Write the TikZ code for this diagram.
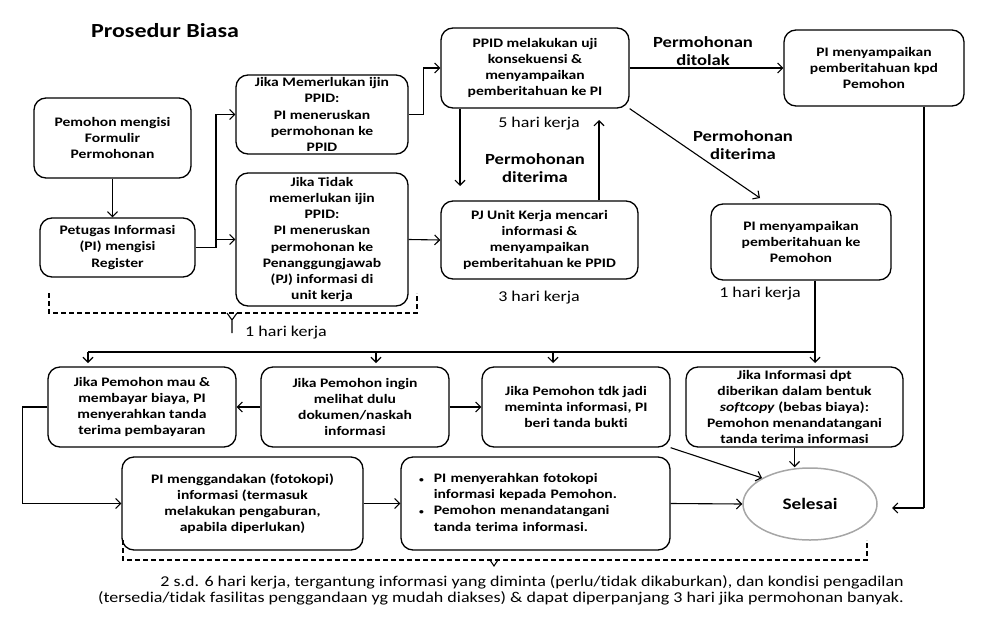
\documentclass[tikz,border=0pt]{standalone}
\usepackage{fontspec}
\setmainfont{Carlito}[FakeStretch=1.2,Ligatures=NoCommon]
\usepackage{tikz}
\usetikzlibrary{arrows.meta,shapes.geometric}
\usetikzlibrary{positioning}

\begin{document}
\begin{tikzpicture}[x=1pt,y=-1pt,
  box/.style n args={2}{draw,line width=1.3pt,rounded corners=12pt,align=center,inner sep=2pt,
    minimum width=#1,minimum height=#2,font=\fontsize{13}{16.2}\selectfont\bfseries},
  arr/.style={line width=1.1pt,-{Straight Barb[length=5pt,width=10pt]}},
  kurung/.style={line width=1.2pt,dash pattern=on 5pt off 3pt},
  ket/.style={align=center,inner sep=0pt,font=\fontsize{15.5}{18}\selectfont\bfseries},
  hari/.style={inner sep=0pt,font=\fontsize{15}{18}\selectfont}]
  \useasboundingbox (0,0) rectangle (987,624);
  \node[inner sep=0pt,font=\fontsize{20}{24}\selectfont\bfseries] (judul) at (165,31) {Prosedur Biasa};
  % baris atas
  \node[box={157pt}{80pt}] (form) at (112.5,138) {Pemohon mengisi\\Formulir\\Permohonan};
  \node[box={155pt}{59pt}] (register) at (117.5,247.5) {Petugas Informasi\\(PI) mengisi\\Register};
  \node[box={172pt}{79pt}] (ijin) at (322,114.5) {Jika Memerlukan ijin\\PPID:\\PI meneruskan\\permohonan ke\\PPID};
  \node[box={172pt}{133pt}] (tanpaijin) at (322,239.5) {Jika Tidak\\memerlukan ijin\\PPID:\\PI meneruskan\\permohonan ke\\Penanggungjawab\\(PJ) informasi di\\unit kerja};
  \node[box={188pt}{80pt}] (uji) at (535,68) {PPID melakukan uji\\konsekuensi \&\\menyampaikan\\pemberitahuan ke PI};
  \node[box={180pt}{76pt}] (tolak) at (874,68) {PI menyampaikan\\pemberitahuan kpd\\Pemohon};
  \node[box={197pt}{78pt}] (pj) at (539.5,240) {PJ Unit Kerja mencari\\informasi \&\\menyampaikan\\pemberitahuan ke PPID};
  \node[box={180pt}{76pt}] (terima) at (801,242) {PI menyampaikan\\pemberitahuan ke\\Pemohon};
  % baris bawah
  \node[box={188pt}{80pt}] (bayar) at (142,407) {Jika Pemohon mau \&\\membayar biaya, PI\\menyerahkan tanda\\terima pembayaran};
  \node[box={188pt}{80pt}] (lihat) at (355,407) {Jika Pemohon ingin\\melihat dulu\\dokumen/naskah\\informasi};
  \node[box={188pt}{80pt}] (batal) at (576,407) {Jika Pemohon tdk jadi\\meminta informasi, PI\\beri tanda bukti};
  \node[box={217pt}{80pt}] (soft) at (794.5,407) {Jika Informasi dpt\\diberikan dalam bentuk\\\textit{softcopy} (bebas biaya):\\Pemohon menandatangani\\tanda terima informasi};
  \node[box={241pt}{93pt}] (ganda) at (242.5,503.5) {PI menggandakan (fotokopi)\\informasi (termasuk\\melakukan pengaburan,\\apabila diperlukan)};
  \node[box={269pt}{93pt},align=left,text width=233pt,inner xsep=18pt] (serah) at (535.5,503.5)
    {\begin{tabular}{@{}l@{\hspace{10pt}}l@{}}
      {\fontsize{8}{8}\selectfont\textbullet} & PI menyerahkan fotokopi\\
                  & informasi kepada Pemohon.\\
      {\fontsize{8}{8}\selectfont\textbullet} & Pemohon menandatangani\\
                  & tanda terima informasi.
    \end{tabular}};
  \node[ellipse,draw=gray!70,line width=1.5pt,minimum width=134pt,minimum height=72pt,inner sep=0pt,
    font=\fontsize{16}{19}\selectfont\bfseries] (selesai) at (810,504) {Selesai};
  % keterangan
  \node[ket] (ditolak) at (703,51) {Permohonan\\ditolak};
  \node[ket] (diterima) at (535,168) {Permohonan\\diterima};
  \node[ket] (diterimab) at (743,145) {Permohonan\\diterima};
  \node[hari] (limahari) at (539,124) {5 hari kerja};
  \node[hari] (tigahari) at (539,298) {3 hari kerja};
  \node[hari] (satuhari) at (760,294) {1 hari kerja};
  \node[hari] (satuharib) at (286,333) {1 hari kerja};
  \node[hari,align=right,anchor=east,font=\fontsize{15}{16}\selectfont] (catatan) at (904,590)
    {2 s.d. 6 hari kerja, tergantung informasi yang diminta (perlu/tidak dikaburkan), dan kondisi pengadilan\\
     (tersedia/tidak fasilitas penggandaan yg mudah diakses) \& dapat diperpanjang 3 hari jika permohonan banyak.};
  % panah
  \coordinate (cabang) at (216,247.5);
  \coordinate (turun) at (460,186);
  \coordinate (naik) at (599,120);
  \coordinate (miring) at (760,198);
  \coordinate (kanan) at (924,508);
  \coordinate (ujung) at (892,508);
  \coordinate (bagi) at (815,352);
  \draw[arr] (form.south) -- (form.south |- register.north);
  \draw[line width=1.1pt] (register.east) -- (cabang);
  \draw[arr] (cabang) |- (ijin.west);
  \draw[arr] (cabang |- tanpaijin.west) -- (tanpaijin.west);
  \draw[arr] (ijin.east) -- ++(15,0) |- (uji.west);
  \draw[arr] (tanpaijin.east) -- (pj.west);
  \draw[arr] (uji.east) -- (tolak.west);
  \draw[arr] (uji.south -| turun) -- (turun);
  \draw[arr] (pj.north -| naik) -- (naik);
  \draw[arr] (uji.south east) -- (miring);
  \draw[line width=1.1pt] (tolak.south -| kanan) -- (kanan);
  \draw[arr] (kanan) -- (ujung);
  \draw[line width=1.1pt] (terima.south -| bagi) -- (bagi) -- (88,352);
  \foreach \x in {88,376,553,815}
    \draw[arr] (\x,352) -- (\x,363);
  \draw[arr] (lihat.west) -- (bayar.east);
  \draw[arr] (lihat.east) -- (batal.west);
  \draw[arr] (bayar.west) -- ++(-25,0) |- (ganda.west);
  \draw[arr] (ganda.east) -- (serah.west);
  \draw[arr] (serah.east) -- (selesai.west);
  \draw[arr] (batal.south east) -- (selesai.north west);
  \draw[arr] (soft.south) -- (soft.south |- selesai.north);
  % kurung
  \draw[kurung] (49,293) -- (49,313) -- (417,313) -- (417,293);
  \draw[line width=1.1pt] (227,313) -- (232,320) -- (237,313) (232,320) -- (232,333);
  \draw[kurung] (123,540) -- (123,560) -- (867,560) -- (867,540);
  \draw[line width=1pt] (490,560) -- (494,566) -- (498,560);
\end{tikzpicture}
\end{document}
